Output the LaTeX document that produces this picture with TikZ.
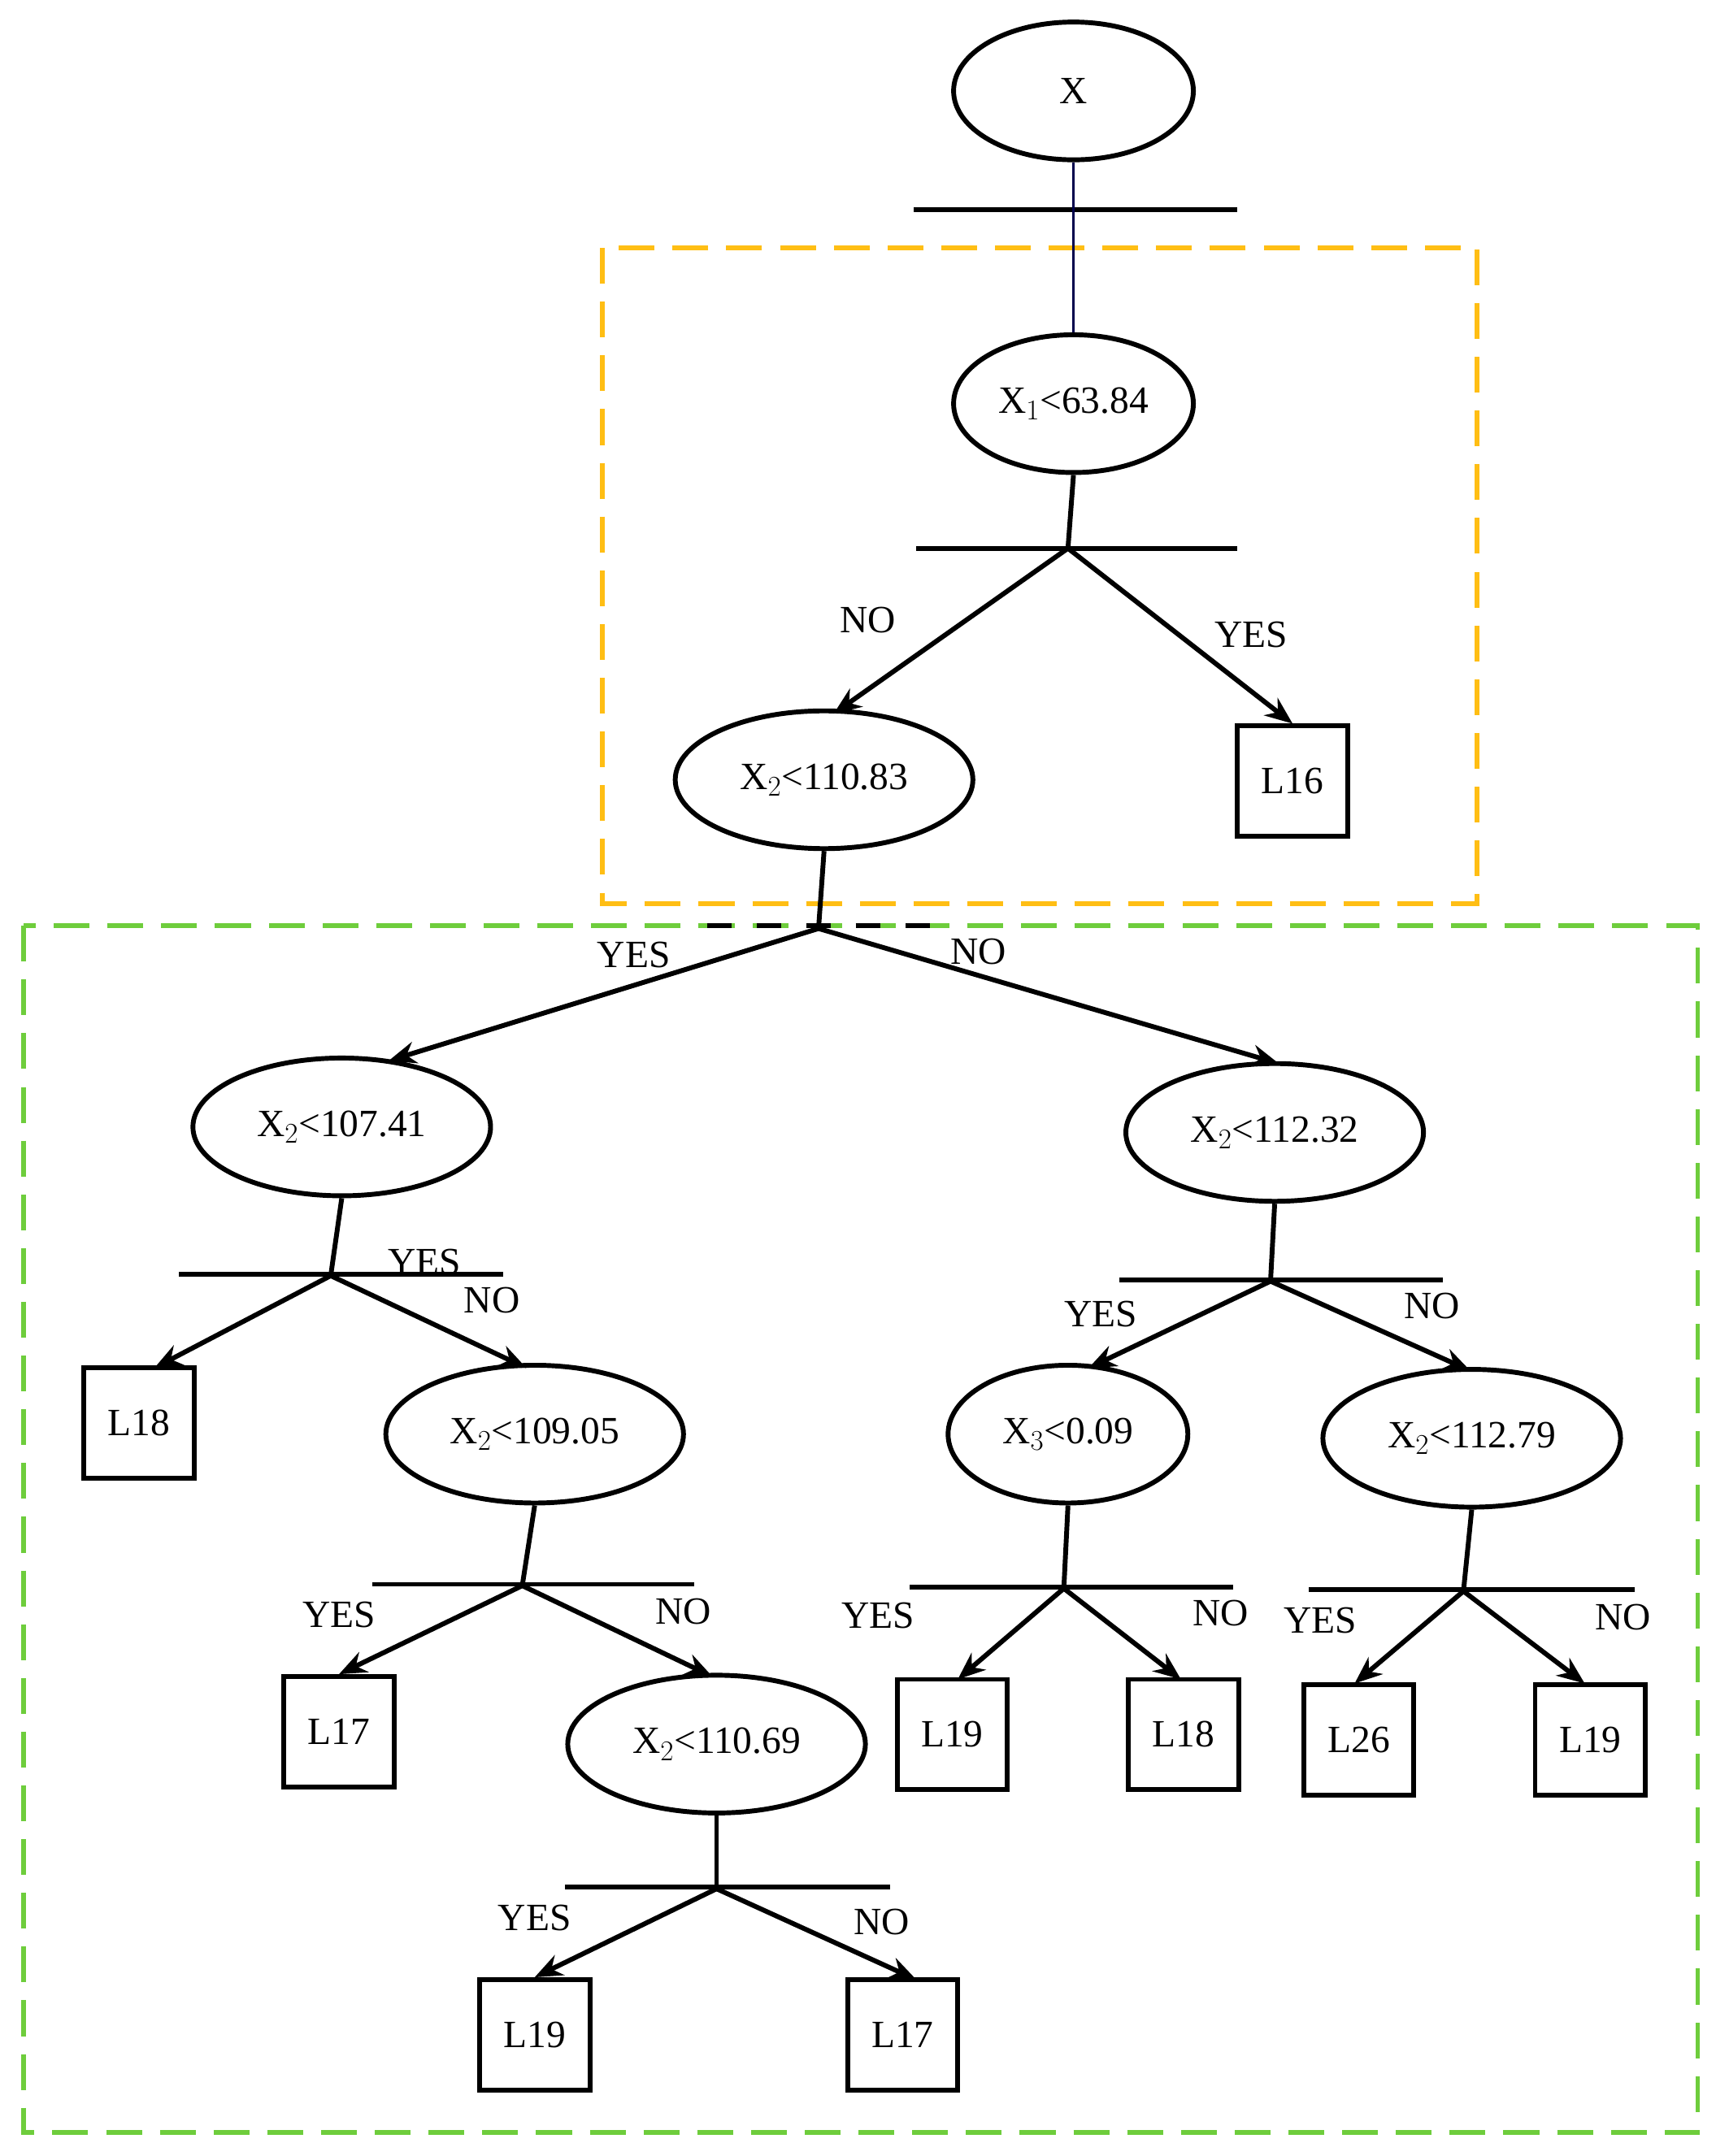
\documentclass[tikz,border=0pt]{standalone}
\usepackage{fontspec}
\setmainfont{Liberation Serif}
\usetikzlibrary{arrows.meta,shapes.geometric}
\definecolor{orng}{RGB}{255,190,20}
\definecolor{grn}{RGB}{110,205,60}
\begin{document}
\begin{tikzpicture}[x=1pt,y=-1pt,
  every node/.style={font=\fontsize{28}{32}\selectfont},
  el/.style={draw,line width=3.5pt,ellipse,inner sep=0pt,minimum height=100pt},
  bx/.style={draw,line width=3.5pt,minimum width=80pt,minimum height=80pt,inner sep=0pt},
  ln/.style={line width=3.5pt},
  ar/.style={line width=3.5pt,-{Stealth[length=20pt,width=16pt]}},
  lab/.style={inner sep=0pt}]
\useasboundingbox (0,0) rectangle (1245,1565);
% frames
\draw[orng,line width=3.5pt,dash pattern=on 26pt off 13pt] (437,180) rectangle (1072,656);
\draw[grn,line width=3.5pt,dash pattern=on 26pt off 13pt] (17,672) rectangle (1232,1548);
\draw[line width=3.5pt,dash pattern=on 18pt off 18pt] (513,672) -- (685,672);
% nodes
\node[el,minimum width=174pt] (X) at (779,66) {X};
\node[el,minimum width=174pt] (A) at (779,293) {X$_1$<63.84};
\node[bx] (L16) at (938,567) {L16};
\node[el,minimum width=216pt] (B) at (598,566) {X$_2$<110.83};
\node[el,minimum width=216pt] (C) at (248,818) {X$_2$<107.41};
\node[el,minimum width=216pt] (D) at (925,822) {X$_2$<112.32};
\node[bx] (L18a) at (101,1033) {L18};
\node[el,minimum width=216pt] (E) at (388,1041) {X$_2$<109.05};
\node[bx] (L17a) at (246,1257) {L17};
\node[el,minimum width=216pt] (F) at (520,1266) {X$_2$<110.69};
\node[bx] (L19a) at (388,1477) {L19};
\node[bx] (L17b) at (655,1477) {L17};
\node[el,minimum width=174pt] (G) at (775,1041) {X$_3$<0.09};
\node[el,minimum width=216pt] (H) at (1068,1044) {X$_2$<112.79};
\node[bx] (L19b) at (691,1259) {L19};
\node[bx] (L18b) at (859,1259) {L18};
\node[bx] (L26) at (986,1263) {L26};
\node[bx] (L19c) at (1154,1263) {L19};
% root
\draw[ln] (663,152) -- (898,152);
\draw[line width=2pt,blue!30!black] (X.south) -- (A.north);
% A
\coordinate (a) at (775,398);
\draw[ln] (A.south) -- (a); \draw[ln] (665,398) -- (898,398);
\draw[ar] (a) -- (605,518); \draw[ar] (a) -- (L16.north);
\node[lab] at (630,450) {NO}; \node[lab] at (908,461) {YES};
% B
\coordinate (b) at (594,674);
\draw[ln] (B.south) -- (b);
\draw[ar] (b) -- (282,770); \draw[ar] (b) -- (928,772);
\node[lab] at (460,693) {YES}; \node[lab] at (710,691) {NO};
% C
\coordinate (c) at (240,926);
\draw[ln] (C.south) -- (c); \draw[ln] (130,925) -- (365,925);
\draw[ar] (c) -- (112,993); \draw[ar] (c) -- (382,993);
\node[lab] at (308,916) {YES}; \node[lab] at (357,944) {NO};
% E
\coordinate (e) at (379,1151);
\draw[ln] (E.south) -- (e); \draw[ln] (270,1150) -- (504,1150);
\draw[ar] (e) -- (L17a.north); \draw[ar] (e) -- (517,1217);
\node[lab] at (246,1172) {YES}; \node[lab] at (496,1170) {NO};
% F
\coordinate (f) at (520,1371);
\draw[ln] (F.south) -- (f); \draw[ln] (410,1370) -- (646,1370);
\draw[ar] (f) -- (L19a.north); \draw[ar] (f) -- (665,1437);
\node[lab] at (388,1392) {YES}; \node[lab] at (640,1395) {NO};
% D
\coordinate (d) at (922,930);
\draw[ln] (D.south) -- (d); \draw[ln] (812,929) -- (1047,929);
\draw[ar] (d) -- (790,993); \draw[ar] (d) -- (1067,995);
\node[lab] at (799,954) {YES}; \node[lab] at (1039,948) {NO};
% G
\coordinate (g) at (772,1153);
\draw[ln] (G.south) -- (g); \draw[ln] (660,1152) -- (895,1152);
\draw[ar] (g) -- (695,1219); \draw[ar] (g) -- (857,1219);
\node[lab] at (637,1173) {YES}; \node[lab] at (886,1171) {NO};
% H
\coordinate (h) at (1062,1155);
\draw[ln] (H.south) -- (h); \draw[ln] (950,1154) -- (1186,1154);
\draw[ar] (h) -- (983,1222); \draw[ar] (h) -- (1150,1222);
\node[lab] at (958,1176) {YES}; \node[lab] at (1178,1174) {NO};
\end{tikzpicture}
\end{document}
